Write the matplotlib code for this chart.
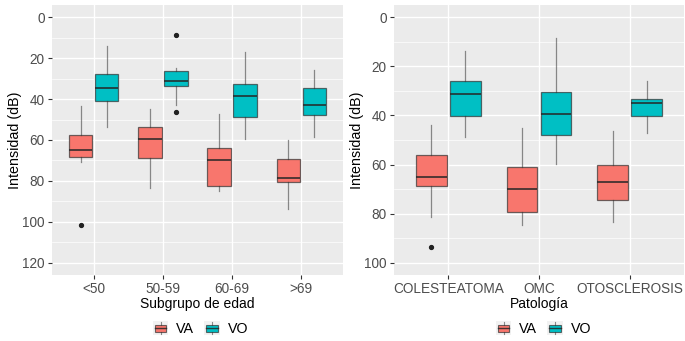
import matplotlib
matplotlib.use("Agg")
import matplotlib.pyplot as plt
from matplotlib.patches import Rectangle, Patch
from matplotlib.lines import Line2D
from matplotlib.legend_handler import HandlerBase
from matplotlib.ticker import MultipleLocator

plt.rcParams["font.family"] = ["Liberation Sans", "DejaVu Sans"]

# ---- Hearing thresholds by age group (dB) ----
age_groups = ["<50", "50-59", "60-69", ">69"]
age_va_lo = [43.6, 45.0, 47.3, 60.0]
age_va_q1 = [57.6, 53.8, 63.8, 69.3]
age_va_med = [64.8, 59.7, 70.0, 78.8]
age_va_q3 = [68.2, 68.7, 82.4, 80.7]
age_va_hi = [71.0, 83.7, 84.8, 93.5]
age_va_out = [[101.5], [], [], []]

age_vo_lo = [13.9, 25.0, 17.1, 25.9]
age_vo_q1 = [27.6, 26.1, 32.5, 34.4]
age_vo_med = [34.7, 31.2, 38.5, 42.9]
age_vo_q3 = [40.9, 33.8, 48.8, 48.0]
age_vo_hi = [53.7, 43.0, 59.7, 58.6]
age_vo_out = [[], [8.6, 46.3], [], []]

# ---- Hearing thresholds by pathology (dB) ----
path_groups = ["COLESTEATOMA", "OMC", "OTOSCLEROSIS"]
path_va_lo = [43.8, 45.2, 46.4]
path_va_q1 = [56.2, 61.0, 60.0]
path_va_med = [64.9, 70.1, 67.3]
path_va_q3 = [68.6, 79.3, 74.6]
path_va_hi = [81.2, 84.8, 83.4]
path_va_out = [[93.7], [], []]

path_vo_lo = [13.7, 8.6, 26.1]
path_vo_q1 = [26.1, 30.5, 33.2]
path_vo_med = [31.2, 39.5, 34.8]
path_vo_q3 = [40.1, 47.9, 40.1]
path_vo_hi = [48.6, 59.7, 47.3]
path_vo_out = [[], [], []]

series_names = ["VA", "VO"]
series_colors = ["#F8766D", "#00BFC4"]

EDGE = (0.2, 0.2, 0.2, 0.7)
WHISK = (0.2, 0.2, 0.2, 0.55)
MED = (0.15, 0.15, 0.15, 0.85)
TXT_GRAY = "#4D4D4D"
FS = 9.8


def make_stats(lo, q1, med, q3, hi, out):
    return [dict(whislo=a, q1=b, med=c, q3=d, whishi=e, fliers=f)
            for a, b, c, d, e, f in zip(lo, q1, med, q3, hi, out)]


def draw_panel(ax, cats, series, ymax, xlabel):
    n = len(cats)
    ax.set_facecolor("#EBEBEB")
    for s, (stats, color) in enumerate(zip(series, series_colors)):
        offs = -0.1875 if s == 0 else 0.1875
        pos = [i + 1 + offs for i in range(n)]
        ax.bxp(stats, positions=pos, widths=0.34, patch_artist=True,
               showfliers=True, manage_ticks=False,
               boxprops=dict(facecolor=color, edgecolor=EDGE, linewidth=0.9),
               medianprops=dict(color=MED, linewidth=1.3),
               whiskerprops=dict(color=WHISK, linewidth=0.9),
               capprops=dict(linewidth=0),
               flierprops=dict(marker="o", markersize=2.8,
                               markerfacecolor="#222222",
                               markeredgecolor="#222222"),
               zorder=3)
    ax.set_xlim(0.4, n + 0.6)
    pad = ymax * 0.05
    ax.set_ylim(ymax + pad, -pad)
    ax.yaxis.set_major_locator(MultipleLocator(20))
    ax.yaxis.set_minor_locator(MultipleLocator(10))
    ax.set_xticks(range(1, n + 1))
    ax.set_xticklabels(cats)
    ax.grid(which="major", color="white", linewidth=1.0, zorder=0)
    ax.grid(which="minor", axis="y", color="white", linewidth=0.5, zorder=0)
    ax.set_axisbelow(True)
    for sp in ax.spines.values():
        sp.set_visible(False)
    ax.tick_params(which="major", length=2.7, width=0.8, color="#333333",
                   labelsize=FS, labelcolor=TXT_GRAY, pad=2.5)
    ax.tick_params(which="minor", length=0)
    ax.set_ylabel("Intensidad (dB)", fontsize=10.3, color="black", labelpad=0)
    ax.set_xlabel(xlabel, fontsize=10.0, color="black", labelpad=0.3)


class BoxKeyHandler(HandlerBase):
    def create_artists(self, legend, orig_handle, xdescent, ydescent,
                       width, height, fontsize, trans):
        fc = orig_handle.get_facecolor()
        x0, y0 = -xdescent, -ydescent
        bg = Rectangle((x0, y0), width, height, facecolor="#F2F2F2",
                       edgecolor="none", transform=trans)
        box = Rectangle((x0 + 0.12 * width, y0 + 0.25 * height),
                        0.76 * width, 0.5 * height, facecolor=fc,
                        edgecolor=EDGE, linewidth=0.8, transform=trans)
        cx = x0 + width / 2
        cy = y0 + height / 2
        med = Line2D([x0 + 0.12 * width, x0 + 0.88 * width], [cy, cy],
                     color=MED, linewidth=1.0, transform=trans)
        w1 = Line2D([cx, cx], [y0 + 0.06 * height, y0 + 0.25 * height],
                    color=WHISK, linewidth=0.8, transform=trans)
        w2 = Line2D([cx, cx], [y0 + 0.75 * height, y0 + 0.94 * height],
                    color=WHISK, linewidth=0.8, transform=trans)
        return [bg, box, med, w1, w2]


fig = plt.figure(figsize=(6.85, 3.41), dpi=100)
W, H = 685.0, 341.0
ax1 = fig.add_axes([52 / W, 1 - 275 / H, 291 / W, 270 / H])
ax2 = fig.add_axes([394 / W, 1 - 275 / H, 290 / W, 270 / H])

age_series = [
    make_stats(age_va_lo, age_va_q1, age_va_med, age_va_q3, age_va_hi, age_va_out),
    make_stats(age_vo_lo, age_vo_q1, age_vo_med, age_vo_q3, age_vo_hi, age_vo_out),
]
path_series = [
    make_stats(path_va_lo, path_va_q1, path_va_med, path_va_q3, path_va_hi, path_va_out),
    make_stats(path_vo_lo, path_vo_q1, path_vo_med, path_vo_q3, path_vo_hi, path_vo_out),
]

draw_panel(ax1, age_groups, age_series, 120, "Subgrupo de edad")
draw_panel(ax2, path_groups, path_series, 100, "Patología")

handles = [Patch(facecolor=c, label=n) for c, n in zip(series_colors, series_names)]
for cx in (200.5 / W, 543.5 / W):
    fig.legend(handles=handles, loc="center", bbox_to_anchor=(cx, 1 - 328.5 / H),
               ncol=2, frameon=False, fontsize=10.3,
               handler_map={Patch: BoxKeyHandler()},
               handlelength=1.1, handleheight=1.15, handletextpad=0.55,
               columnspacing=0.7, borderpad=0.1)

fig.savefig("out.png", dpi=100)
